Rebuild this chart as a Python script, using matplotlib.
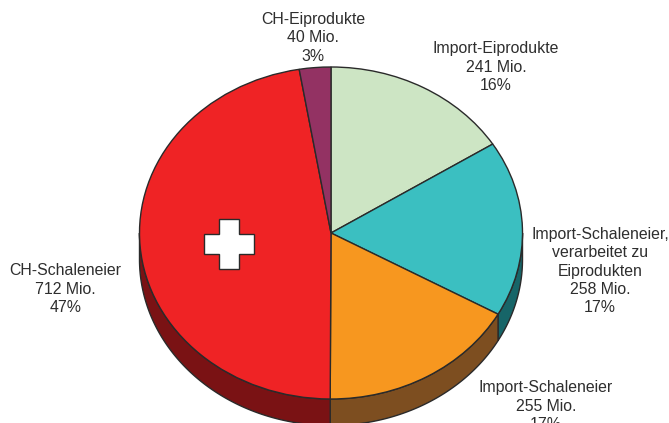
import numpy as np
import matplotlib
matplotlib.use("Agg")
import matplotlib.pyplot as plt
from matplotlib.patches import Polygon

categories = ["Import-Eiprodukte", "Import-Schaleneier,\nverarbeitet zu\nEiprodukten",
              "Import-Schaleneier", "CH-Schaleneier", "CH-Eiprodukte"]
values = [241, 258, 255, 712, 40]
percents = [16, 17, 17, 47, 3]
top_colors = ["#CDE5C4", "#3BBFC1", "#F7971F", "#EF2325", "#933263"]
side_colors = ["#8FA088", "#176568", "#7D4E20", "#7A1214", "#5A1F3C"]

W, H = 669, 423
CX, CY, RX, RY, DEPTH = 331, 233, 191.5, 166, 26.5
EDGE = "#2A2A2A"
TEXT = "#2E2E2E"

plt.rcParams["font.family"] = ["Liberation Sans", "DejaVu Sans"]
fig = plt.figure(figsize=(W / 100, H / 100), dpi=100)
ax = fig.add_axes([0, 0, 1, 1])

d = DEPTH / RY
# side wall, only on the lower half of the ellipse
angles = np.cumsum([0] + values) / sum(values) * 2 * np.pi
for a0, a1, c in zip(angles[:-1], angles[1:], side_colors):
    # clockwise angle from 12 o'clock; front part runs from pi/2 to 3pi/2
    lo, hi = max(a0, np.pi / 2), min(a1, 3 * np.pi / 2)
    if hi <= lo:
        continue
    t = np.linspace(lo, hi, 120)
    x, y = np.sin(t), np.cos(t)
    pts = np.r_[np.c_[x, y], np.c_[x, y - d][::-1]]
    ax.add_patch(Polygon(pts, closed=True, fc=c, ec=EDGE, lw=1.0, zorder=1))

wedges, _ = ax.pie(values, colors=top_colors, startangle=90, counterclock=False,
                   radius=1, center=(0, 0),
                   wedgeprops=dict(edgecolor=EDGE, linewidth=1.0))
for w in wedges:
    w.set_zorder(2)

ax.set_aspect("auto")
ax.set_xlim(-CX / RX, (W - CX) / RX)
ax.set_ylim((CY - H) / RY, CY / RY)
ax.axis("off")

# white cross on the CH-Schaleneier slice (pixel units converted to axes data)
def px(xp, yp):
    return (xp - CX) / RX, (CY - yp) / RY
cross = [(219, 219), (239, 219), (239, 234), (254, 234), (254, 254), (239, 254),
         (239, 269), (219, 269), (219, 254), (204, 254), (204, 234), (219, 234)]
ax.add_patch(Polygon([px(*p) for p in cross], closed=True, fc="white", ec=EDGE, lw=1.0, zorder=3))

# labels: centre of each text block, in pixels
label_pos = [(496, 67), (600, 271), (546, 406), (65.5, 289), (313, 38)]
for cat, v, p, (lx, ly) in zip(categories, values, percents, label_pos):
    fig.text(lx / W, 1 - ly / H, f"{cat}\n{v} Mio.\n{p}%", ha="center", va="center",
             ma="center", fontsize=11.4, color=TEXT, linespacing=1.27)

fig.savefig("out.png", dpi=100)
